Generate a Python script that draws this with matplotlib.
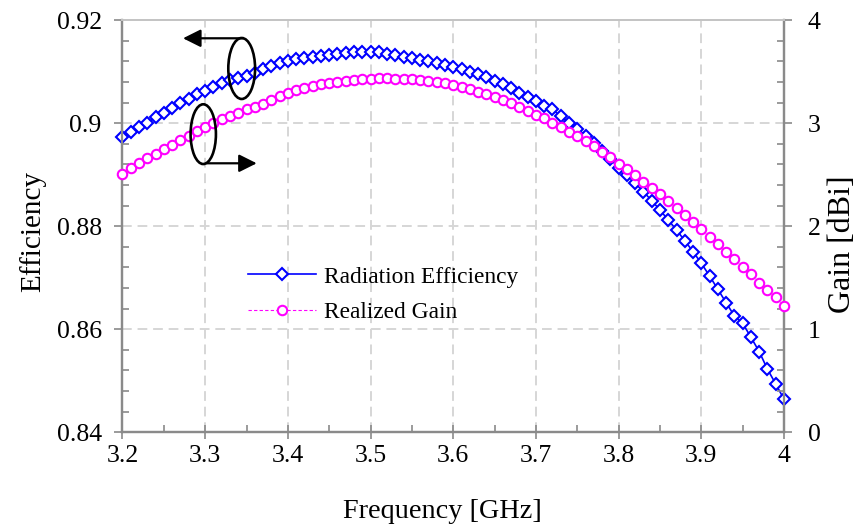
import numpy as np
import matplotlib
matplotlib.use("Agg")
import matplotlib.pyplot as plt
from matplotlib.patches import Ellipse, FancyArrowPatch
from matplotlib.ticker import MultipleLocator, FixedLocator, FixedFormatter

# ---------------- data ----------------
freq_start, freq_step, n_pts = 3.20, 0.01, 81
frequency = np.round(freq_start + freq_step * np.arange(n_pts), 2)

radiation_efficiency = [
    0.89728, 0.89826, 0.89922, 0.90012, 0.90116, 0.90206, 0.90304, 0.90388, 0.90478, 0.90562,
    0.90634, 0.90710, 0.90776, 0.90840, 0.90880, 0.90924, 0.90982, 0.91048, 0.91112, 0.91164,
    0.91212, 0.91248, 0.91274, 0.91292, 0.91314, 0.91328, 0.91352, 0.91364, 0.91378, 0.91390,
    0.91390, 0.91378, 0.91352, 0.91320, 0.91290, 0.91262, 0.91234, 0.91206, 0.91170, 0.91132,
    0.91090, 0.91048, 0.91002, 0.90952, 0.90894, 0.90828, 0.90758, 0.90680, 0.90594, 0.90504,
    0.90424, 0.90332, 0.90268, 0.90136, 0.90010, 0.89896, 0.89760, 0.89616, 0.89464, 0.89304,
    0.89140, 0.88996, 0.88834, 0.88672, 0.88498, 0.88316, 0.88122, 0.87928, 0.87720, 0.87506,
    0.87282, 0.87034, 0.86776, 0.86516, 0.86258, 0.86116, 0.85844, 0.85566, 0.85224, 0.84938,
    0.84640,
]

realized_gain = [
    2.512, 2.563, 2.612, 2.660, 2.702, 2.748, 2.792, 2.838, 2.877, 2.925,
    2.965, 3.000, 3.039, 3.071, 3.103, 3.136, 3.161, 3.190, 3.225, 3.262,
    3.295, 3.323, 3.346, 3.365, 3.379, 3.394, 3.404, 3.414, 3.420, 3.430,
    3.433, 3.437, 3.437, 3.433, 3.430, 3.427, 3.420, 3.414, 3.404, 3.390,
    3.376, 3.352, 3.330, 3.307, 3.284, 3.254, 3.226, 3.194, 3.161, 3.122,
    3.081, 3.047, 3.006, 2.967, 2.920, 2.877, 2.831, 2.780, 2.724, 2.670,
    2.608, 2.553, 2.498, 2.433, 2.369, 2.314, 2.249, 2.175, 2.110, 2.045,
    1.971, 1.899, 1.828, 1.753, 1.680, 1.608, 1.537, 1.452, 1.381, 1.310,
    1.226,
]

x_ticks = [3.2, 3.3, 3.4, 3.5, 3.6, 3.7, 3.8, 3.9, 4.0]
x_tick_labels = ["3.2", "3.3", "3.4", "3.5", "3.6", "3.7", "3.8", "3.9", "4"]
eff_ticks = [0.84, 0.86, 0.88, 0.90, 0.92]
eff_tick_labels = ["0.84", "0.86", "0.88", "0.9", "0.92"]
gain_ticks = [0, 1, 2, 3, 4]
gain_tick_labels = ["0", "1", "2", "3", "4"]

# ---------------- style ----------------
plt.rcParams["font.family"] = ["Liberation Serif", "DejaVu Serif"]

BLUE = "#0000FF"
MAGENTA = "#FF00FF"
AXIS_GREY = "#8a8a8a"
GRID_GREY = "#d6d6d6"

fig = plt.figure(figsize=(8.65, 5.24), dpi=100)
ax = fig.add_axes([0.1416, 0.175, 0.9064 - 0.1416, 0.9613 - 0.175])
ax2 = ax.twinx()

# efficiency (left)
l1, = ax.plot(frequency, radiation_efficiency, color=BLUE, lw=1.2, marker="D",
              ms=5.8, mew=1.5, mfc="white", mec=BLUE, clip_on=False, zorder=3,
              label="Radiation Efficiency")
# gain (right)
l2, = ax2.plot(frequency, realized_gain, color=MAGENTA, lw=0.8, ls=(0, (3, 2)),
               marker="o", ms=6.8, mew=1.5, mfc="white", mec=MAGENTA,
               clip_on=False, zorder=3, label="Realized Gain")

ax.set_xlim(3.2, 4.0)
ax.set_ylim(0.84, 0.92)
ax2.set_ylim(0, 4)

ax.xaxis.set_major_locator(FixedLocator(x_ticks))
ax.xaxis.set_major_formatter(FixedFormatter(x_tick_labels))
ax.xaxis.set_minor_locator(MultipleLocator(0.05))
ax.yaxis.set_major_locator(FixedLocator(eff_ticks))
ax.yaxis.set_major_formatter(FixedFormatter(eff_tick_labels))
ax.yaxis.set_minor_locator(MultipleLocator(0.004))
ax2.yaxis.set_major_locator(FixedLocator(gain_ticks))
ax2.yaxis.set_major_formatter(FixedFormatter(gain_tick_labels))
ax2.yaxis.set_minor_locator(MultipleLocator(0.2))

ax.grid(True, which="major", color=GRID_GREY, lw=1.4, ls=(0, (5, 3)), zorder=0)
ax.set_axisbelow(True)

for a in (ax, ax2):
    for side in ("left", "bottom", "right"):
        a.spines[side].set_color(AXIS_GREY)
        a.spines[side].set_linewidth(1.6)
    a.spines["top"].set_color("#c4c4c4")
    a.spines["top"].set_linewidth(1.4)

ax.tick_params(axis="x", which="major", direction="inout", length=10, width=1.2,
               color=AXIS_GREY, labelsize=18.5, pad=4, top=False)
ax.tick_params(axis="x", which="minor", direction="in", length=5, width=1.2,
               color=AXIS_GREY, top=False)
ax.tick_params(axis="y", which="major", direction="out", length=6, width=1.2,
               color=AXIS_GREY, labelsize=18.5, pad=9, right=False)
ax.tick_params(axis="y", which="minor", direction="in", length=5, width=1.2,
               color=AXIS_GREY, right=False)
ax2.tick_params(axis="y", which="major", direction="out", length=6, width=1.2,
                color=AXIS_GREY, labelsize=18.5, pad=11, left=False)
ax2.tick_params(axis="y", which="minor", direction="in", length=5, width=1.2,
                color=AXIS_GREY, left=False)

ax.set_xlabel("Frequency [GHz]", fontsize=20.3)
ax.xaxis.set_label_coords(0.4838, -0.163)
ax.set_ylabel("Efficiency", fontsize=21)
ax.yaxis.set_label_coords(-0.115, 0.487)
ax2.set_ylabel("Gain [dBi]", fontsize=23)
ax2.yaxis.set_label_coords(1.066, 0.457)

leg = ax2.legend(handles=[l1, l2], loc="upper left",
                 bbox_to_anchor=(0.19, 0.403), frameon=False, fontsize=16.8,
                 handlelength=2.9, handletextpad=0.35, labelspacing=0.6,
                 borderaxespad=0, borderpad=0)

# ellipse + arrow annotations (axes fraction coordinates)
T = ax2.transAxes
e1 = Ellipse((0.1802, 0.883), 0.0405, 0.148, transform=T, fill=False,
             ec="black", lw=1.9, zorder=6, clip_on=False)
e2 = Ellipse((0.1221, 0.7236), 0.0383, 0.145, transform=T, fill=False,
             ec="black", lw=1.9, zorder=6, clip_on=False)
ax2.add_patch(e1)
ax2.add_patch(e2)
a1 = FancyArrowPatch((0.1822, 0.9563), (0.0915, 0.9563), transform=T,
                     arrowstyle="-|>,head_length=0.6,head_width=0.3",
                     mutation_scale=18, color="black", lw=1.6,
                     shrinkA=0, shrinkB=0, zorder=6, clip_on=False)
a2 = FancyArrowPatch((0.1273, 0.6529), (0.2029, 0.6529), transform=T,
                     arrowstyle="-|>,head_length=0.6,head_width=0.3",
                     mutation_scale=18, color="black", lw=1.6,
                     shrinkA=0, shrinkB=0, zorder=6, clip_on=False)
ax2.add_patch(a1)
ax2.add_patch(a2)

fig.savefig("out.png", dpi=100, facecolor="white")
